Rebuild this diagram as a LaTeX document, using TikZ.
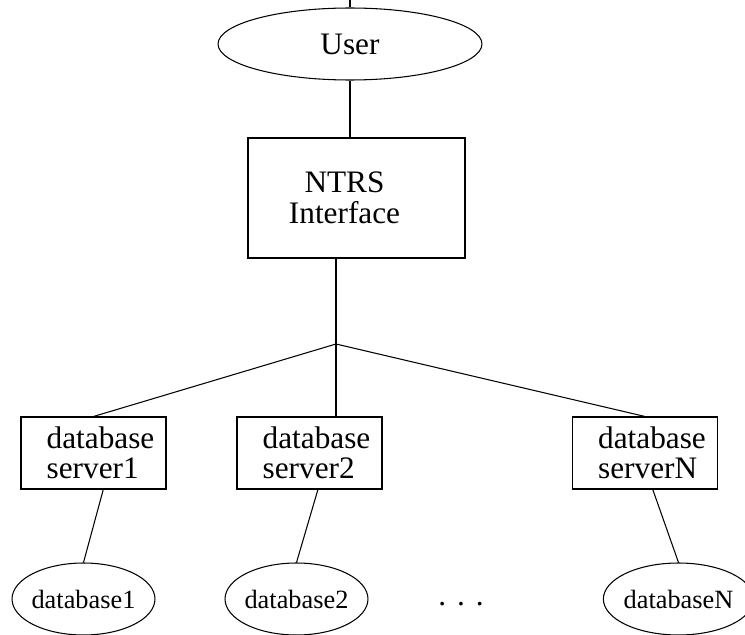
\documentclass[tikz,border=0pt]{standalone}
\usepackage{fontspec}
\setmainfont{Liberation Serif}
\usepackage{tikz}
\usetikzlibrary{shapes, positioning, calc}
\newcommand{\srvind}{\hspace*{0.28cm}}
\newcommand{\ntrsind}{\hspace*{-0.48cm}}

\begin{document}
\begin{tikzpicture}[x=0.02cm, y=-0.02cm, line width=0.6pt,
    big/.style={font=\fontsize{17.8}{17.4}\selectfont},
    oval/.style={ellipse, draw, inner sep=0pt, minimum height=1.44cm},
    srvbox/.style={rectangle, draw, big, align=left, inner sep=0pt, minimum width=2.9cm, minimum height=1.44cm},
    dbnode/.style={oval, inner xsep=-1pt, minimum width=2.86cm, font=\fontsize{15}{15}\selectfont}]
                \useasboundingbox (0,0) rectangle (745,635);
                \node[oval, big, minimum width=5.28cm] (user) at (350,44) {User};
                \node[rectangle, draw, big, align=center, minimum width=4.34cm, minimum height=2.4cm] (ntrs) at (356.5,198) {\ntrsind NTRS\\\ntrsind Interface};
                \coordinate (tick) at (350,0);
                \coordinate (jn) at (336,344);
                \draw (user.north) -- (tick);
                \draw (user.south) -- (user.south |- ntrs.north);
                \draw (ntrs.south -| jn) -- (jn);
                \node[srvbox] (srv1) at (93.5,453) {\srvind database\\\srvind server1};
                \node[srvbox] (srv2) at (309.5,453) {\srvind database\\\srvind server2};
                \node[srvbox] (srvN) at (645,453) {\srvind database\\\srvind serverN};
                \draw (jn) -- (srv1.north);
                \draw (jn) -- (jn |- srv2.north);
                \draw (jn) -- (srvN.north);
                \node[dbnode] (db1) at (83.5,599) {database1};
                \node[dbnode] (db2) at (296.5,599) {database2};
                \node[dbnode] (dbN) at (678.5,599) {databaseN};
                \draw (srv1.-75) -- (db1.north);
                \draw (srv2.-77) -- (db2.north);
                \draw (srvN.-78) -- (dbN.north);
                \node[big] (dots) at (461,604) {.\hspace{0.22cm}.\hspace{0.22cm}.};
            \end{tikzpicture}
\end{document}
